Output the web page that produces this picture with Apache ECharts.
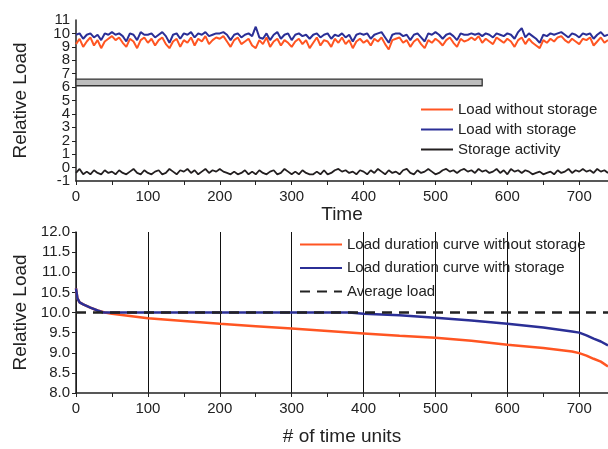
<!DOCTYPE html>
<html>
<head>
    <meta charset="utf-8">
    <title>Load</title>
    <script src="https://cdn.jsdelivr.net/npm/echarts/dist/echarts.min.js"></script>
</head>
<body style="margin:0">
    <div id="main" style="width: 608px;height:449px;"></div>
    <script>
        // top panel: one sample every 5 time units, 0..740
        var timeStep = 5;
        var loadWithout = [
            9.2, 9.6, 9.0, 9.4, 9.7, 9.1, 9.5, 8.9, 9.4, 9.6,
            9.8, 9.5, 9.7, 9.3, 9.0, 9.6, 9.4, 8.9, 9.5, 9.7,
            9.3, 9.6, 9.1, 9.5, 9.7, 9.2, 8.9, 9.4, 9.6, 9.0,
            9.5, 9.3, 9.7, 9.1, 9.6, 9.4, 9.8, 9.2, 9.5, 9.7,
            9.6, 9.8, 9.4, 9.0, 9.5, 9.7, 9.2, 9.4, 9.6, 9.1,
            8.9, 9.5, 9.2, 9.7, 9.0, 9.4, 9.6, 9.1, 9.5, 9.3,
            9.0, 9.4, 9.6, 9.2, 9.5, 8.9, 9.3, 9.7, 9.1, 9.5,
            9.4, 9.0, 9.6, 9.3, 9.7, 9.2, 9.5, 8.9, 9.4, 9.6,
            9.3, 9.5, 9.1, 9.6, 9.4, 9.7, 9.2, 8.8, 9.5, 9.6,
            9.7, 9.3, 9.5, 9.0, 9.4, 9.6, 9.2, 8.9, 9.5, 9.3,
            9.6, 9.4, 9.1, 9.5, 9.7, 9.3, 9.0, 9.6, 9.4, 9.5,
            9.7, 9.5, 9.8, 9.3, 9.6, 9.4, 9.2, 9.7, 9.5, 9.3,
            9.6, 9.4, 9.0, 9.5, 9.7, 9.2, 9.6, 9.3, 9.1, 8.9,
            9.5, 9.3, 9.6, 9.4, 9.7, 9.8, 9.5, 9.3, 9.6, 9.4,
            9.2, 9.6, 9.5, 9.7, 9.1, 9.4, 9.7, 9.3, 9.5
        ];
        var loadWith = [
            9.9, 10.0, 9.6, 9.9, 10.0, 9.7, 9.9, 9.5, 10.0, 9.9,
            10.1, 9.9, 10.0, 9.8, 9.4, 10.0, 9.9, 9.5, 10.1, 9.9,
            9.9, 10.0, 9.7, 9.9, 10.1, 9.8, 9.3, 9.9, 10.0, 9.6,
            10.0, 9.9, 10.1, 9.7, 10.0, 9.9, 10.1, 9.8, 9.9, 10.0,
            10.0, 10.1, 9.9, 9.5, 9.9, 10.0, 9.7, 9.9, 10.0, 9.8,
            10.5, 9.7, 9.6, 10.0, 9.5, 9.9, 10.1, 9.6, 9.9, 10.0,
            9.5, 9.9, 10.0, 9.8, 9.9, 9.6, 9.9, 10.0, 9.7, 9.9,
            10.0, 9.6, 9.9, 9.8, 10.0, 9.7, 9.9, 9.4, 9.9, 10.0,
            9.9, 10.0, 9.6, 9.9, 10.0, 10.1, 9.7, 9.3, 9.9, 10.0,
            10.0, 9.8, 9.9, 9.5, 9.9, 10.0, 9.7, 9.4, 10.0, 9.9,
            10.1, 9.9, 9.6, 9.9, 10.0, 9.8, 9.5, 10.0, 9.9, 9.9,
            10.0, 9.9, 10.0, 9.8, 10.0, 9.9, 9.7, 10.0, 9.9, 9.8,
            10.0, 9.9, 9.6, 10.1, 10.4, 9.7, 10.0, 9.8, 9.6, 9.3,
            9.9, 9.8, 10.0, 9.9, 10.0, 10.1, 9.9, 9.7, 10.0, 9.9,
            9.7, 10.0, 9.9, 10.0, 9.6, 9.9, 10.1, 9.8, 9.9
        ];
        var storageActivity = [
            -0.4, -0.1, -0.5, -0.3, -0.5, -0.2, -0.4, -0.5, -0.2, -0.4,
            -0.3, -0.5, -0.2, -0.4, -0.5, -0.3, -0.1, -0.4, -0.5, -0.2,
            -0.4, -0.5, -0.3, -0.2, -0.5, -0.4, -0.1, -0.3, -0.5, -0.2,
            -0.3, -0.1, -0.4, -0.2, -0.5, -0.3, -0.1, -0.4, -0.2, -0.3,
            -0.1, -0.3, -0.4, -0.5, -0.3, -0.5, -0.4, -0.2, -0.5, -0.3,
            -0.5, -0.2, -0.4, -0.5, -0.3, -0.2, -0.5, -0.4, -0.1, -0.3,
            -0.5, -0.3, -0.5, -0.2, -0.4, -0.5, -0.5, -0.3, -0.5, -0.2,
            -0.5, -0.4, -0.2, -0.1, -0.3, -0.2, -0.4, -0.3, -0.5, -0.2,
            -0.3, -0.5, -0.2, -0.4, -0.1, -0.3, -0.5, -0.2, -0.4, -0.3,
            -0.5, -0.2, -0.1, -0.4, -0.5, -0.2, -0.4, -0.3, -0.1, -0.3,
            -0.5, -0.4, -0.2, -0.1, -0.3, -0.2, -0.4, -0.2, -0.1, -0.3,
            -0.2, -0.4, -0.1, -0.3, -0.2, -0.4, -0.3, -0.1, -0.4, -0.2,
            -0.5, -0.1, -0.3, -0.2, -0.4, -0.2, -0.3, -0.5, -0.4, -0.3,
            -0.5, -0.4, -0.3, -0.5, -0.2, -0.4, -0.3, -0.1, -0.4, -0.2,
            -0.3, -0.1, -0.3, -0.2, -0.4, -0.1, -0.3, -0.2, -0.4
        ];
        // grey box in the top panel: [x0, x1, y0, y1]
        var greyBox = [0, 565, 6.1, 6.6];

        // bottom panel: load duration curves
        var durWithoutX = [0, 2, 5, 10, 20, 30, 40, 50, 100, 150, 200, 250, 300, 350, 400, 450, 500, 550, 600, 650, 690, 700, 710, 720, 730, 740];
        var durWithoutY = [10.6, 10.35, 10.25, 10.2, 10.12, 10.05, 10.0, 9.97, 9.86, 9.79, 9.72, 9.66, 9.6, 9.54, 9.48, 9.42, 9.37, 9.3, 9.2, 9.12, 9.03, 8.99, 8.93, 8.85, 8.78, 8.66];
        var durWithX = [0, 2, 5, 10, 20, 30, 38, 100, 200, 300, 380, 400, 450, 500, 550, 600, 650, 690, 700, 710, 720, 730, 740];
        var durWithY = [10.6, 10.35, 10.25, 10.2, 10.12, 10.05, 10.0, 10.0, 10.0, 10.0, 10.0, 9.97, 9.93, 9.87, 9.8, 9.72, 9.63, 9.53, 9.5, 9.43, 9.35, 9.28, 9.18];
        var averageLoad = 10.0;

        function toPairs(xs, ys) {
            return xs.map(function (x, i) { return [x, ys[i]]; });
        }
        function timed(arr) {
            return arr.map(function (v, i) { return [i * timeStep, v]; });
        }

        var txt = '#222';
        var font = 'Liberation Sans';
        var orange = '#ff5522';
        var blue = '#2b2f96';

        var chartDom = document.getElementById('main');
        var myChart = echarts.init(chartDom);

        function xAxisCfg(grid, name, gap) {
            return {
                type: 'value', gridIndex: grid, min: 0, max: 740, interval: 100,
                name: name, nameLocation: 'middle', nameGap: gap,
                nameTextStyle: { fontFamily: font, fontSize: 19, color: txt },
                axisLine: { onZero: false, lineStyle: { color: txt, width: 1.5 } },
                axisTick: { length: 4, lineStyle: { color: txt } },
                minorTick: { show: true, splitNumber: 2, length: 4, lineStyle: { color: txt } },
                axisLabel: { fontFamily: font, fontSize: 15, color: txt, margin: 8, showMaxLabel: false },
                splitLine: { show: grid === 1, lineStyle: { color: '#111', width: 1 } }
            };
        }

        var legendIconStyle = { opacity: 0 };

        var option = {
            animation: false,
            grid: [
                { left: 76, right: 0, top: 20, height: 161 },
                { left: 76, right: 0, top: 232, height: 161 }
            ],
            xAxis: [xAxisCfg(0, 'Time', 24), xAxisCfg(1, '# of time units', 34)],
            yAxis: [
                {
                    type: 'value', gridIndex: 0, min: -1, max: 11, interval: 1, position: 'left',
                    name: 'Relative Load', nameLocation: 'middle', nameGap: 46,
                    nameTextStyle: { fontFamily: font, fontSize: 19, color: txt },
                    axisLine: { show: true, onZero: false, lineStyle: { color: txt, width: 1.5 } },
                    axisTick: { show: true, length: 4, lineStyle: { color: txt } },
                    axisLabel: {
                        fontFamily: font, fontSize: 15, color: txt, margin: 6,
                        showMinLabel: false, showMaxLabel: false
                    },
                    splitLine: { show: false }
                },
                {
                    type: 'value', gridIndex: 1, min: 8, max: 12, interval: 0.5, position: 'left',
                    name: 'Relative Load', nameLocation: 'middle', nameGap: 46,
                    nameTextStyle: { fontFamily: font, fontSize: 19, color: txt },
                    axisLine: { show: true, onZero: false, lineStyle: { color: txt, width: 1.5 } },
                    axisTick: { show: true, length: 4, lineStyle: { color: txt } },
                    axisLabel: {
                        fontFamily: font, fontSize: 15, color: txt, margin: 6,
                        showMinLabel: true, showMaxLabel: true,
                        formatter: function (v) { return v.toFixed(1); }
                    },
                    splitLine: { show: false }
                },
                {
                    // end labels (-1 and 11) of the top axis
                    type: 'value', gridIndex: 0, min: -1, max: 11, interval: 12, position: 'left', offset: 0,
                    axisLine: { show: false, onZero: false }, axisTick: { show: false },
                    axisLabel: { fontFamily: font, fontSize: 15, color: txt, margin: 6 },
                    splitLine: { show: false }
                }
            ],
            legend: [
                {
                    data: ['Load without storage', 'Load with storage', 'Storage activity'],
                    orient: 'vertical', left: 415, top: 97, itemWidth: 32, itemHeight: 10, itemGap: 5,
                    itemStyle: legendIconStyle,
                    textStyle: { fontFamily: font, fontSize: 15, color: txt }
                },
                {
                    data: ['Load duration curve without storage', 'Load duration curve with storage', 'Average load'],
                    orient: 'vertical', left: 294, top: 232, itemWidth: 42, itemHeight: 12, itemGap: 8.5,
                    itemStyle: legendIconStyle,
                    textStyle: { fontFamily: font, fontSize: 15, color: txt }
                }
            ],
            series: [
                {
                    name: 'Load without storage', type: 'line', xAxisIndex: 0, yAxisIndex: 0,
                    data: timed(loadWithout), symbol: 'none', color: orange,
                    lineStyle: { width: 2 },
                    markArea: {
                        silent: true,
                        itemStyle: { color: '#bdbdbd', borderColor: '#333', borderWidth: 1.3 },
                        data: [[{ coord: [greyBox[0], greyBox[2]] }, { coord: [greyBox[1], greyBox[3]] }]]
                    }
                },
                {
                    name: 'Load with storage', type: 'line', xAxisIndex: 0, yAxisIndex: 0,
                    data: timed(loadWith), symbol: 'none', color: blue,
                    lineStyle: { width: 2 }
                },
                {
                    name: 'Storage activity', type: 'line', xAxisIndex: 0, yAxisIndex: 0,
                    data: timed(storageActivity), symbol: 'none', color: '#231f20',
                    lineStyle: { width: 1.8 }
                },
                {
                    name: 'Load duration curve without storage', type: 'line', xAxisIndex: 1, yAxisIndex: 1,
                    data: toPairs(durWithoutX, durWithoutY), symbol: 'none', color: orange,
                    lineStyle: { width: 2.5 }
                },
                {
                    name: 'Load duration curve with storage', type: 'line', xAxisIndex: 1, yAxisIndex: 1,
                    data: toPairs(durWithX, durWithY), symbol: 'none', color: blue,
                    lineStyle: { width: 2.5 }
                },
                {
                    name: 'Average load', type: 'line', xAxisIndex: 1, yAxisIndex: 1,
                    data: [[0, averageLoad], [740, averageLoad]], symbol: 'none', color: '#222',
                    lineStyle: { width: 2.5, type: [10, 7] }
                }
            ]
        };

        option && myChart.setOption(option);
    </script>
</body>
</html>
